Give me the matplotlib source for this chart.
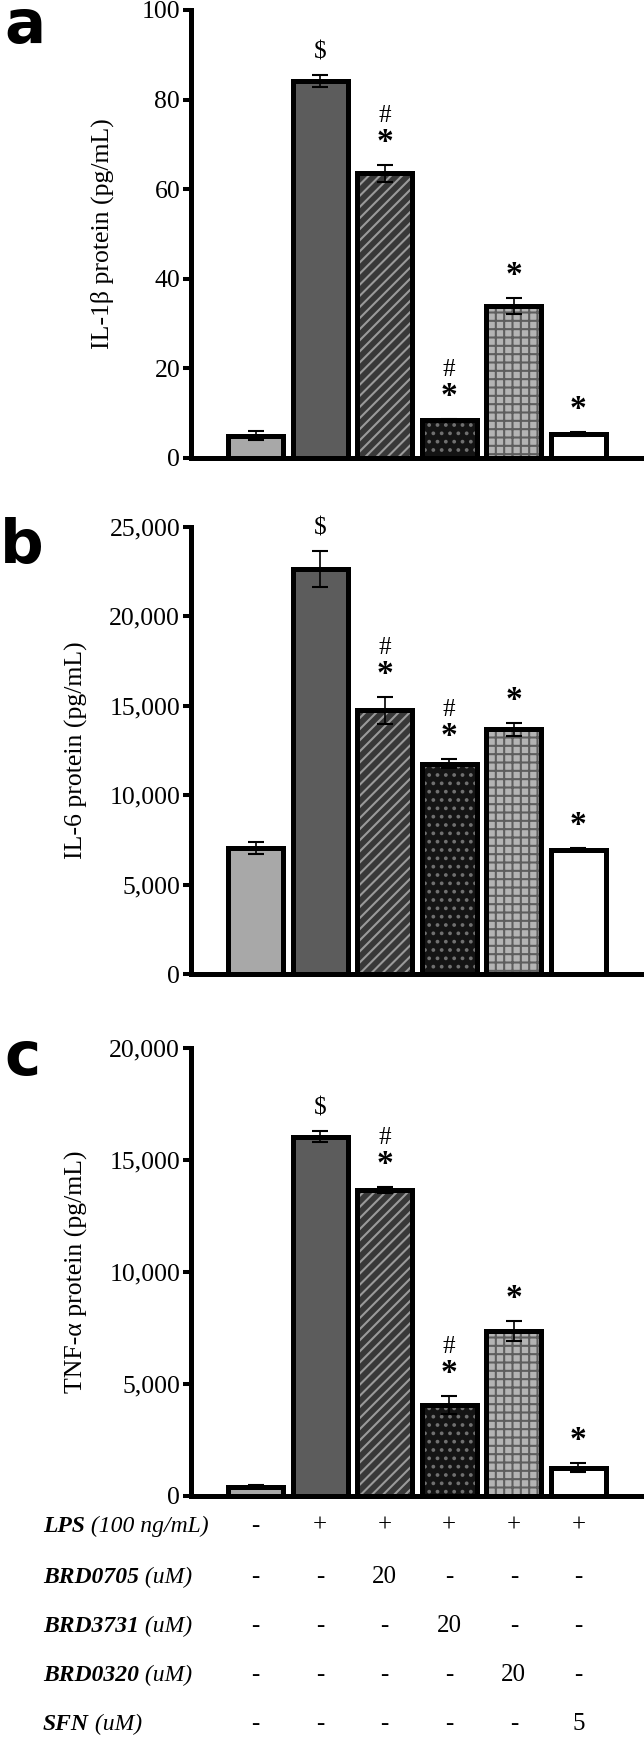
import matplotlib
matplotlib.use('Agg')
import numpy as np
import matplotlib.pyplot as plt
import matplotlib.transforms as mtransforms
from matplotlib.ticker import FuncFormatter, MultipleLocator

plt.rcParams['font.family'] = ['Liberation Serif', 'DejaVu Serif']
plt.rcParams['hatch.linewidth'] = 1.5

# six treatment groups, same order in every panel
groups = np.arange(6)

il1b = [5.0, 84.1, 63.6, 8.5, 34.0, 5.4]
il1b_err = [1.0, 1.3, 1.9, 0.3, 1.8, 0.4]

il6 = [7050, 22650, 14750, 11770, 13680, 6960]
il6_err = [350, 1000, 750, 260, 350, 100]

tnfa = [415, 16040, 13660, 4060, 7370, 1260]
tnfa_err = [80, 250, 150, 420, 450, 200]

marks = ['', '$', '#*', '#*', '*', '*']

row_names = ['LPS', 'BRD0705', 'BRD3731', 'BRD0320', 'SFN']
row_units = ['(100 ng/mL)', '(uM)', '(uM)', '(uM)', '(uM)']
row_vals = [
    ['-', '+', '+', '+', '+', '+'],
    ['-', '-', '20', '-', '-', '-'],
    ['-', '-', '-', '20', '-', '-'],
    ['-', '-', '-', '-', '20', '-'],
    ['-', '-', '-', '-', '-', '5'],
]

faces = ['#a8a8a8', '#5c5c5c', '#383838', '#141414', '#b4b4b4', 'white']
hatches = [None, None, '///', '..', '++', None]
hatch_cols = [None, None, '#9a9a9a', '#707070', '#5e5e5e', None]

W, H = 644, 1737
fig = plt.figure(figsize=(W / 100, H / 100), dpi=100)


def fy(px):
    return 1 - px / H


def draw_panel(rect, vals, errs, ymax, step, ylabel, label_x, letter, letter_pos):
    ax = fig.add_axes(rect)
    ax.set_xlim(-1, 6)
    ax.set_ylim(0, ymax)

    fill = ax.bar(groups, vals, width=0.85, color=faces, linewidth=0, zorder=2)
    for p, h, hc in zip(fill, hatches, hatch_cols):
        if h:
            p.set_hatch(h)
            p.set_edgecolor(hc)
    ax.bar(groups, vals, width=0.85, fill=False, edgecolor='black',
           linewidth=3.6, zorder=3)
    ax.errorbar(groups, vals, yerr=errs, fmt='none', ecolor='black',
                elinewidth=1.2, capsize=6, capthick=1.5, zorder=4)

    for i, (v, e, m) in enumerate(zip(vals, errs, marks)):
        top = v + e
        if '*' in m:
            ax.annotate('*', (i, top), xytext=(0, 14), textcoords='offset pixels',
                        ha='center', va='baseline', fontsize=24, fontweight='bold')
        if '#' in m:
            ax.annotate('#', (i, top), xytext=(0, 43), textcoords='offset pixels',
                        ha='center', va='baseline', fontsize=18)
        if '$' in m:
            ax.annotate('$', (i, top), xytext=(0, 17), textcoords='offset pixels',
                        ha='center', va='baseline', fontsize=18)

    for s in ['top', 'right']:
        ax.spines[s].set_visible(False)
    for s in ['left', 'bottom']:
        ax.spines[s].set_linewidth(3.6)
    ax.set_xticks([])
    ax.yaxis.set_major_locator(MultipleLocator(step))
    ax.yaxis.set_major_formatter(FuncFormatter(lambda v, p: f'{v:,.0f}'))
    ax.tick_params(axis='y', direction='out', length=5.8, width=2.9,
                   labelsize=18.5, pad=2)
    ax.set_ylabel(ylabel, fontsize=18.5)
    ax.yaxis.set_label_coords(label_x, 0.5)

    fig.text(letter_pos[0] / W, fy(letter_pos[1]), letter, family='DejaVu Sans',
             fontweight='bold', fontsize=44, ha='left', va='baseline')
    return ax


left, width = 191 / W, 452 / W
ax_a = draw_panel([left, fy(458), width, 448 / H], il1b, il1b_err, 100, 20,
                  'IL-1β protein (pg/mL)', -0.170, 'a', (4, 43))
ax_b = draw_panel([left, fy(974), width, 447 / H], il6, il6_err, 25000, 5000,
                  'IL-6 protein (pg/mL)', -0.228, 'b', (0, 563))
ax_c = draw_panel([left, fy(1496), width, 448 / H], tnfa, tnfa_err, 20000, 5000,
                  'TNF-α protein (pg/mL)', -0.228, 'c', (4, 1075))

# treatment table under panel c
trans = mtransforms.blended_transform_factory(ax_c.transData, fig.transFigure)
baselines = [1532, 1583, 1632, 1681, 1730]
for name, unit, vals, yb in zip(row_names, row_units, row_vals, baselines):
    t = fig.text(43 / W, fy(yb), name, fontsize=17, fontweight='bold',
                 style='italic', ha='left', va='baseline')
    fig.add_artist(plt.Annotation(' ' + unit, xy=(1, 0), xycoords=t, fontsize=17,
                                  style='italic', ha='left', va='bottom',
                                  annotation_clip=False))
    for i, s in enumerate(vals):
        ax_c.text(groups[i], fy(yb), s, transform=trans, fontsize=18,
                  ha='center', va='baseline', clip_on=False)

fig.savefig('out.png', dpi=100)
